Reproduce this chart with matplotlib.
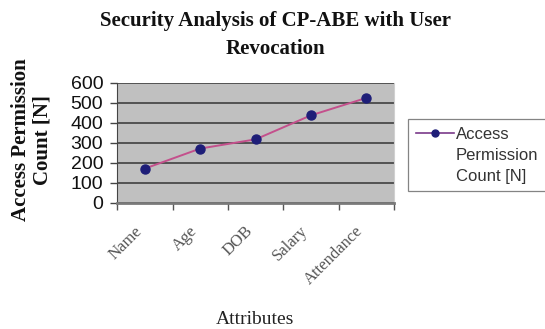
import matplotlib
matplotlib.use("Agg")
import matplotlib.pyplot as plt
from matplotlib.lines import Line2D

categories = ["Name", "Age", "DOB", "Salary", "Attendance"]
values = [172, 272, 318, 438, 525]
yticks = [0, 100, 200, 300, 400, 500, 600]

fig = plt.figure(figsize=(5.45, 3.29), dpi=100)
ax = fig.add_axes([0.215, 0.383, 0.508, 0.365])
ax.set_facecolor("#c0c0c0")

x = list(range(len(categories)))
line, = ax.plot(x, values, color="#c4508c", lw=1.4, marker="o", ms=6.5,
                mfc="#1e1e78", mec="#1e1e78", zorder=3)

ax.set_xlim(-0.5, len(categories) - 0.5)
ax.set_ylim(0, 600)
ax.set_yticks(yticks)
ax.set_yticklabels([str(v) for v in yticks], fontsize=14, family="Liberation Sans",
                   color="#111111")
ax.yaxis.grid(True, color="#4a4a4a", lw=1.3)
ax.set_axisbelow(True)

ax.set_xticks([i - 0.5 for i in range(len(categories) + 1)])
ax.set_xticklabels([])
ax.tick_params(axis="x", length=5, color="#555555", width=1.0)
ax.tick_params(axis="y", length=5, color="#444444", pad=5, width=1.0)
ax.spines["top"].set_visible(False)
ax.spines["right"].set_color("#d0d0d0")
ax.spines["left"].set_color("#444444")
ax.spines["bottom"].set_color("#7a7a7a")
ax.spines["bottom"].set_linewidth(2.0)

for i, c in enumerate(categories):
    ax.text(i - 0.2, -100, c, rotation=45, ha="right", va="top",
            fontsize=12, family="Liberation Serif", color="#555555",
            rotation_mode="anchor", transform=ax.transData)

fig.text(0.505, 0.936, "Security Analysis of CP-ABE with User", ha="center", va="center",
         fontsize=15, fontweight="bold", family="Liberation Serif", color="#111111")
fig.text(0.505, 0.851, "Revocation", ha="center", va="center",
         fontsize=15, fontweight="bold", family="Liberation Serif", color="#111111")
fig.text(0.468, 0.03, "Attributes", ha="center", va="center",
         fontsize=14, family="Liberation Serif", color="#222222")
fig.text(0.058, 0.575, "Access Permission\nCount [N]", ha="center", va="center",
         rotation=90, fontsize=15, fontweight="bold", family="Liberation Serif",
         linespacing=1.1, color="#111111")

blank = Line2D([], [], color="none")
leg = fig.legend(handles=[Line2D([], [], color="#7a3a8a", lw=1.2, marker="o", ms=5,
                                 mfc="#1e1e78", mec="#1e1e78"), blank, blank],
                 labels=["Access", "Permission", "Count [N]"],
                 loc="upper left", bbox_to_anchor=(0.749, 0.637),
                 frameon=True, fancybox=False, edgecolor="#666666",
                 prop={"family": "Liberation Sans", "size": 12},
                 handlelength=2.3, handletextpad=0.1, borderpad=0.45,
                 labelspacing=0.35, borderaxespad=0)
leg.get_frame().set_linewidth(0.9)
for t in leg.get_texts():
    t.set_color("#333333")

fig.savefig("out.png", dpi=100)
